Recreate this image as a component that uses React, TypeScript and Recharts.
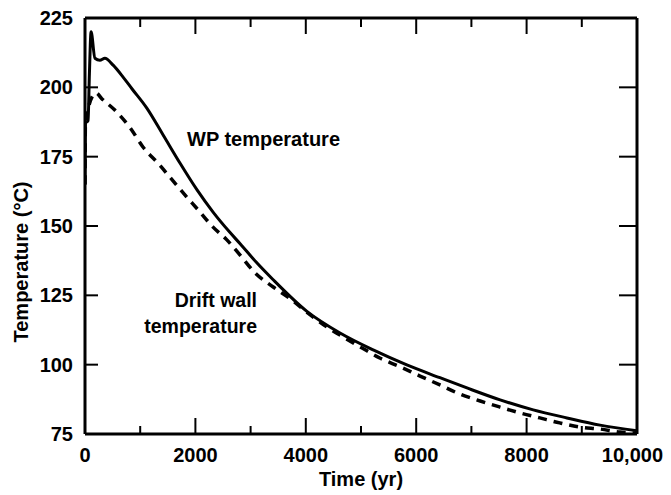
import { LineChart, Line, XAxis, YAxis } from "recharts";

// tick values
const timeTicks = [0, 1000, 2000, 3000, 4000, 5000, 6000, 7000, 8000, 9000, 10000];
const tempTicks = [75, 100, 125, 150, 175, 200, 225];

// WP temperature (solid)
const wpTime = [0, 8, 55, 80, 110, 180, 270, 360, 510, 690, 850, 1120, 1410, 1720, 2030, 2320, 2620, 2810, 3100, 3400, 4020, 4620, 5220, 5830, 6430, 6920, 7520, 8120, 8730, 9330, 10000];
const wpTemp = [165, 187, 188, 205, 220, 210.5, 209.8, 210.5, 208, 203.7, 199.5, 192.5, 183, 172.7, 163, 155, 147.8, 143.6, 137, 130.8, 119.2, 111.4, 105.3, 99.9, 95.3, 91.6, 87.3, 83.7, 80.8, 78.2, 76.2];

// Drift wall temperature (dashed)
const driftTime = [0, 8, 200, 300, 540, 815, 1050, 1320, 1580, 1810, 2050, 2320, 2570, 2810, 3080, 3410, 3750, 4040, 4380, 4710, 5020, 5340, 5710, 6070, 6430, 6790, 7160, 7520, 7880, 8240, 8600, 8970, 9330, 9690, 10000];
const driftTemp = [165, 188, 198, 196, 191.8, 185.5, 178.5, 172.7, 166.6, 161.2, 155.8, 149.6, 145, 139.5, 133.1, 128, 123.3, 118.6, 113.6, 109.6, 106, 102.4, 99.2, 95.9, 92.7, 89.4, 86.9, 84.7, 82.6, 80.8, 79, 77.5, 76.8, 75.7, 75.3];

const wpData = wpTime.map((t, i) => ({ time: t, temp: wpTemp[i] }));
const driftData = driftTime.map((t, i) => ({ time: t, temp: driftTemp[i] }));

const FONT = "'Liberation Sans', Arial, Helvetica, sans-serif";
const txt = { fontFamily: FONT, fontWeight: 700, fontSize: 20, fill: "#000" };

// ticks are drawn inward, so every axis gets its own little renderer
const BottomTick = ({ x, y, payload }: any) => {
  const v = payload.value;
  const major = v % 2000 === 0;
  return (
    <g>
      <line x1={x} y1={y} x2={x} y2={y - (major ? 16 : 8)} stroke="#000" strokeWidth={2} />
      {major && (
        <text x={v === 10000 ? x + 26 : x} y={y + 28} textAnchor={v === 10000 ? "end" : "middle"} style={txt}>
          {v === 10000 ? "10,000" : String(v)}
        </text>
      )}
    </g>
  );
};

const TopTick = ({ x, y, payload }: any) => {
  const major = payload.value % 2000 === 0;
  return <line x1={x} y1={y} x2={x} y2={y + (major ? 16 : 9)} stroke="#000" strokeWidth={2} />;
};

const LeftTick = ({ x, y, payload }: any) => (
  <g>
    <line x1={x} y1={y} x2={x + 13} y2={y} stroke="#000" strokeWidth={2} />
    <text x={x - 12} y={y + 7} textAnchor="end" style={txt}>
      {payload.value}
    </text>
  </g>
);

const RightTick = ({ x, y }: any) => (
  <line x1={x} y1={y} x2={x - 18} y2={y} stroke="#000" strokeWidth={2} />
);

const axisLine = { stroke: "#000", strokeWidth: 3 };

export default function App() {
  return (
    <div style={{ margin: "-8px -8px 0 -8px", width: 671, height: 495, background: "#fff" }}>
      <LineChart width={671} height={495} margin={{ top: 17, right: 33, bottom: 1, left: 15 }}>
        <XAxis
          xAxisId="bottom"
          dataKey="time"
          type="number"
          domain={[0, 10000]}
          ticks={timeTicks}
          interval={0}
          allowDataOverflow
          height={60}
          tickSize={0}
          tickMargin={0}
          axisLine={axisLine}
          tickLine={false}
          tick={<BottomTick />}
          label={{
            content: ({ viewBox }: any) => (
              <text x={viewBox.x + viewBox.width / 2} y={486} textAnchor="middle" style={txt}>
                Time (yr)
              </text>
            ),
          }}
        />
        <XAxis
          xAxisId="top"
          orientation="top"
          dataKey="time"
          type="number"
          domain={[0, 10000]}
          ticks={timeTicks}
          interval={0}
          allowDataOverflow
          height={1}
          tickSize={0}
          tickMargin={0}
          axisLine={axisLine}
          tickLine={false}
          tick={<TopTick />}
        />
        <YAxis
          yAxisId="left"
          type="number"
          domain={[75, 225]}
          ticks={tempTicks}
          interval={0}
          allowDataOverflow
          width={70}
          tickSize={0}
          tickMargin={0}
          axisLine={axisLine}
          tickLine={false}
          tick={<LeftTick />}
          label={{
            content: () => (
              <text x={28} y={262} transform="rotate(-90, 28, 262)" textAnchor="middle" style={txt}>
                Temperature (°C)
              </text>
            ),
          }}
        />
        <YAxis
          yAxisId="right"
          orientation="right"
          type="number"
          domain={[75, 225]}
          ticks={tempTicks}
          interval={0}
          allowDataOverflow
          width={1}
          tickSize={0}
          tickMargin={0}
          axisLine={axisLine}
          tickLine={false}
          tick={<RightTick />}
        />
        <Line
          xAxisId="bottom"
          yAxisId="left"
          data={wpData}
          dataKey="temp"
          type="monotone"
          stroke="#000"
          strokeWidth={3}
          dot={false}
          isAnimationActive={false}
        />
        <Line
          xAxisId="top"
          yAxisId="right"
          data={driftData}
          dataKey="temp"
          type="monotone"
          stroke="#000"
          strokeWidth={3.5}
          strokeDasharray="9 7"
          dot={false}
          isAnimationActive={false}
        />
        <text x={187} y={146} style={{ ...txt, fontSize: 20 }}>
          WP temperature
        </text>
        <text x={257} y={307} textAnchor="end" style={{ ...txt, fontSize: 19.5 }}>
          Drift wall
        </text>
        <text x={257} y={333} textAnchor="end" style={{ ...txt, fontSize: 19.5 }}>
          temperature
        </text>
      </LineChart>
    </div>
  );
}
